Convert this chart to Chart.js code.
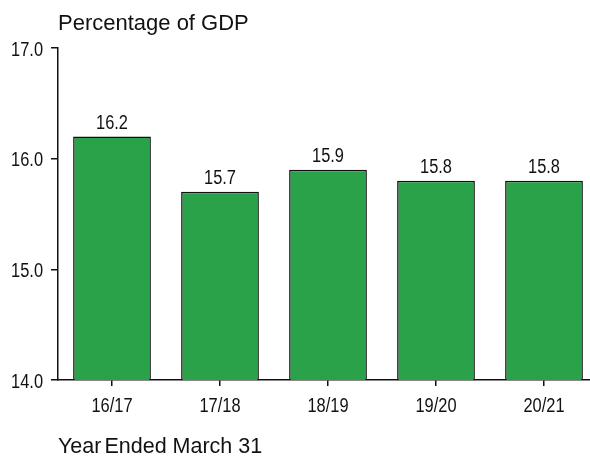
<!DOCTYPE html>
<html>
<head>
<meta charset="utf-8">
<script src="https://cdn.jsdelivr.net/npm/chart.js@4/dist/chart.umd.min.js"></script>
<style>
  html, body { margin: 0; padding: 0; overflow: hidden; background: #fff; }
  #wrap { width: 598px; height: 456px; }
</style>
</head>
<body>
<div id="wrap"><canvas id="grafico" width="598" height="456"></canvas></div>
<script>
// datos del grafico
const anios = ["16/17", "17/18", "18/19", "19/20", "20/21"];
const valores = [16.2, 15.7, 15.9, 15.8, 15.8];
const ticksY = [14, 15, 16, 17];

const verde = "#29a24a";
const fuente = "'Liberation Sans', Arial, sans-serif";

// texto estrecho (no hay Arial Narrow instalada, se comprime a mano)
function textoEstrecho(ctx, txt, x, y, align) {
  ctx.save();
  ctx.translate(x, y);
  ctx.scale(0.82, 1);
  ctx.textAlign = align;
  ctx.fillText(txt, 0, 0);
  ctx.restore();
}

// textos de los ejes y etiquetas encima de las barras
const textos = {
  id: "textos",
  afterDraw: function (chart) {
    const ctx = chart.ctx;
    const meta = chart.getDatasetMeta(0);
    const ejeX = chart.scales.x;
    const ejeY = chart.scales.y;
    ctx.save();
    ctx.fillStyle = "#111";
    ctx.font = "20px " + fuente;
    ctx.textBaseline = "alphabetic";
    meta.data.forEach(function (barra, i) {
      textoEstrecho(ctx, valores[i].toFixed(1), barra.x, barra.y - 8, "center");
    });
    anios.forEach(function (a, i) {
      textoEstrecho(ctx, a, ejeX.getPixelForValue(i), 412, "center");
    });
    ctx.textBaseline = "middle";
    ticksY.forEach(function (v) {
      textoEstrecho(ctx, v.toFixed(1), 43, ejeY.getPixelForValue(v) + 2, "right");
    });
    ctx.textBaseline = "alphabetic";
    ctx.font = "22px " + fuente;
    ctx.textAlign = "left";
    ctx.fillText("Percentage of GDP", 58, 30);
    ctx.font = "21.5px " + fuente;
    ctx.fillText("Year", 58, 453);
    ctx.fillText("Ended March 31", 58 + ctx.measureText("Year").width + 3, 453);
    ctx.restore();
  },
};

const config = {
  type: "bar",
  data: {
    labels: anios,
    datasets: [
      {
        data: valores,
        backgroundColor: verde,
        borderColor: "#111",
        borderWidth: 1.5,
        borderSkipped: "bottom",
        barPercentage: 0.72,
        categoryPercentage: 1,
      },
    ],
  },
  options: {
    responsive: false,
    animation: false,
    layout: { padding: { top: 48, left: 0, right: 0, bottom: 0 } },
    plugins: { legend: { display: false }, tooltip: { enabled: false } },
    scales: {
      x: {
        offset: true,
        grid: { display: true, drawOnChartArea: false, offset: false, color: "#111", tickLength: 6, lineWidth: 1.5 },
        border: { color: "#111", width: 1.5 },
        ticks: { color: "rgba(0,0,0,0)", font: { family: fuente, size: 20 }, padding: 5, maxRotation: 0 },
        afterFit: function (scale) { scale.height = 76; },
      },
      y: {
        min: 14,
        max: 17,
        afterBuildTicks: function (scale) {
          scale.ticks = ticksY.map(function (v) { return { value: v }; });
        },
        grid: { display: true, drawOnChartArea: false, color: "#111", tickLength: 7, lineWidth: 1.5 },
        border: { color: "#111", width: 1.5 },
        ticks: {
          color: "rgba(0,0,0,0)",
          font: { family: fuente, size: 20 },
          padding: 8,
          callback: function (v) { return Number(v).toFixed(1); },
        },
        afterFit: function (scale) { scale.width = 58; },
      },
    },
  },
  plugins: [textos],
};

const miGrafico = new Chart(document.getElementById("grafico"), config);
</script>
</body>
</html>
